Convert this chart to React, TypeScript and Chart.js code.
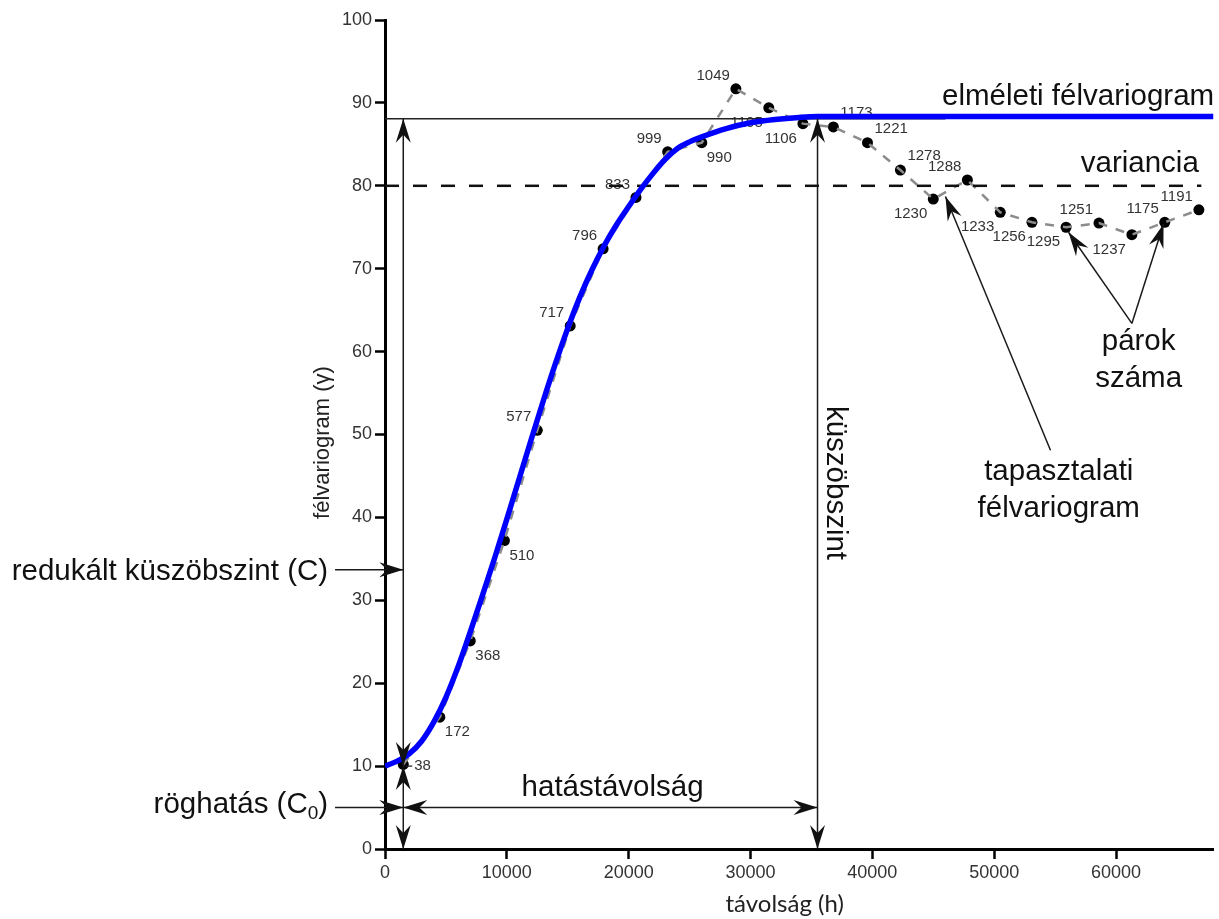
import React, { useEffect, useRef } from "react";
import { Chart, registerables } from "chart.js";

Chart.register(...registerables);

// ---- axis ticks ----
const xTickValues = [0, 10000, 20000, 30000, 40000, 50000, 60000];
const yTickValues = [0, 10, 20, 30, 40, 50, 60, 70, 80, 90, 100];
const xMax = 68000;
const yMax = 100;

// ---- experimental semivariogram (tapasztalati félvariogram) ----
const lagDistance = [1500, 4500, 7000, 9800, 12500, 15200, 17900, 20600, 23200, 26000, 28800, 31500, 34300, 36800, 39600, 42300, 45000, 47800, 50500, 53100, 55900, 58600, 61300, 64000, 66800];
const experimentalGamma = [10.2, 15.9, 25.1, 37.2, 50.5, 63.1, 72.4, 78.6, 84.1, 85.2, 91.7, 89.4, 87.5, 87.1, 85.2, 81.9, 78.4, 80.7, 76.8, 75.6, 75.0, 75.5, 74.1, 75.6, 77.1];
const pairCounts = [38, 172, 368, 510, 577, 717, 796, 833, 999, 990, 1049, 1105, 1106, 1173, 1221, 1278, 1230, 1288, 1233, 1256, 1295, 1251, 1237, 1175, 1191];

// ---- theoretical semivariogram (elméleti félvariogram) ----
const modelDistance = [0, 1000, 2000, 3000, 4000, 5000, 6000, 7000, 8000, 9000, 10000, 11000, 12000, 13000, 14000, 15000, 16000, 17000, 18000, 19000, 20000, 21000, 22000, 23000, 24000, 25000, 26000, 28000, 30000, 32000, 34000, 35500, 68000];
const modelGamma = [10.0, 10.6, 11.5, 13.0, 15.3, 18.3, 22.0, 26.2, 30.6, 35.1, 39.8, 44.6, 49.4, 54.1, 58.6, 62.8, 66.6, 69.9, 72.8, 75.3, 77.5, 79.6, 81.5, 83.2, 84.5, 85.3, 85.9, 86.9, 87.6, 88.0, 88.25, 88.35, 88.35];

// ---- reference levels ----
const sillLevel = 88.1;
const sillLineEnd = 46000;
const varianceLevel = 80;
const varianceLineEnd = 67000;
const nuggetLevel = 10;
const nuggetDistance = 1500;
const rangeDistance = 35500;
const reducedSillMarker = 33.7;
const nuggetMarker = 5;

// label placement style for each pair-count label (r = right, rb = right-below, ra = right-above, la = left-above, lb = left-below)
const pairLabelSide = ["r", "rb", "rb", "rb", "la", "la", "la", "la", "la", "rb", "la", "lb", "lb", "ra", "ra", "ra", "lb", "la", "lb", "lb", "lb", "la", "lb", "la", "la"];

const SANS = '"Liberation Sans", Arial, Helvetica, sans-serif';

function arrowHead(ctx: CanvasRenderingContext2D, tx: number, ty: number, fx: number, fy: number) {
  const ang = Math.atan2(ty - fy, tx - fx);
  const L = 24, W = 7.5, N = 8;
  ctx.save();
  ctx.translate(tx, ty);
  ctx.rotate(ang);
  ctx.beginPath();
  ctx.moveTo(0, 0);
  ctx.lineTo(-L, -W);
  ctx.lineTo(-L + N, 0);
  ctx.lineTo(-L, W);
  ctx.closePath();
  ctx.fill();
  ctx.restore();
}

const pointLabelPlugin = {
  id: "pointLabels",
  beforeDatasetsDraw(chart: any) {
    const { ctx, scales } = chart;
    const sx = scales.x, sy = scales.y;
    ctx.save();
    ctx.font = `15px ${SANS}`;
    ctx.fillStyle = "#333";
    ctx.textBaseline = "middle";
    pairCounts.forEach((n, i) => {
      const px = sx.getPixelForValue(lagDistance[i]);
      const py = sy.getPixelForValue(experimentalGamma[i]);
      const side = pairLabelSide[i];
      let dx = 0, dy = 0;
      if (side === "r") { ctx.textAlign = "left"; dx = 11; dy = 1; }
      else if (side === "rb") { ctx.textAlign = "left"; dx = 5; dy = 15; }
      else if (side === "ra") { ctx.textAlign = "left"; dx = 7; dy = -14; }
      else if (side === "la") { ctx.textAlign = "right"; dx = -6; dy = -13; }
      else { ctx.textAlign = "right"; dx = -6; dy = 15; }
      ctx.fillText(String(n), px + dx, py + dy);
    });
    ctx.restore();
  },
};

const annotationPlugin = {
  id: "annotations",
  afterDatasetsDraw(chart: any) {
    const { ctx, scales } = chart;
    const X = (v: number) => scales.x.getPixelForValue(v);
    const Y = (v: number) => scales.y.getPixelForValue(v);
    ctx.save();
    ctx.strokeStyle = "#1a1a1a";
    ctx.fillStyle = "#111";
    ctx.lineWidth = 1.5;

    const seg = (x1: number, y1: number, x2: number, y2: number, headStart: boolean, headEnd: boolean) => {
      ctx.beginPath();
      ctx.moveTo(x1, y1);
      ctx.lineTo(x2, y2);
      ctx.stroke();
      if (headEnd) arrowHead(ctx, x2, y2, x1, y1);
      if (headStart) arrowHead(ctx, x1, y1, x2, y2);
    };

    const leftStart = X(-4100);
    seg(X(nuggetDistance), Y(nuggetLevel), X(nuggetDistance), Y(sillLevel), true, true);
    seg(X(nuggetDistance), Y(0), X(nuggetDistance), Y(nuggetLevel), true, true);
    seg(X(rangeDistance), Y(0), X(rangeDistance), Y(sillLevel), true, true);
    seg(X(nuggetDistance), Y(nuggetMarker), X(rangeDistance), Y(nuggetMarker), true, true);
    seg(leftStart, Y(nuggetMarker), X(nuggetDistance), Y(nuggetMarker), false, true);
    seg(leftStart, Y(reducedSillMarker), X(nuggetDistance), Y(reducedSillMarker), false, true);
    seg(X(54620), Y(48.1), X(46000), Y(78.7), false, true);
    seg(X(61300), Y(63.4), X(56100), Y(74.4), false, true);
    seg(X(61300), Y(63.4), X(63900), Y(75.4), false, true);
    ctx.lineWidth = 1.2;
    ctx.beginPath();
    ctx.moveTo(X(nuggetDistance), Y(nuggetLevel));
    ctx.lineTo(X(nuggetDistance) + 9, Y(nuggetLevel));
    ctx.stroke();

    ctx.fillStyle = "#111";
    ctx.font = `29.5px ${SANS}`;
    ctx.textBaseline = "alphabetic";
    ctx.textAlign = "left";
    ctx.fillText("elméleti félvariogram", X(45715), Y(89.75));
    ctx.fillText("variancia", X(57103), Y(81.66));
    ctx.textAlign = "center";
    ctx.fillText("hatástávolság", X(18680), Y(6.39));
    ctx.fillText("tapasztalati", X(55300), Y(44.5));
    ctx.fillText("félvariogram", X(55300), Y(40.05));
    ctx.fillText("párok", X(61855), Y(60.19));
    ctx.fillText("száma", X(61855), Y(55.73));
    ctx.textAlign = "right";
    ctx.fillText("redukált küszöbszint (C)", X(-4670), Y(32.45));

    {
      const rightX = X(-4670);
      const base = Y(4.34);
      const mainA = "röghatás (C";
      const sub = "0";
      const close = ")";
      ctx.font = `29.5px ${SANS}`;
      const wA = ctx.measureText(mainA).width;
      const wC = ctx.measureText(close).width;
      ctx.font = `19px ${SANS}`;
      const wS = ctx.measureText(sub).width;
      let cx = rightX - (wA + wS + wC);
      ctx.textAlign = "left";
      ctx.font = `29.5px ${SANS}`;
      ctx.fillText(mainA, cx, base);
      cx += wA;
      ctx.font = `19px ${SANS}`;
      ctx.fillText(sub, cx, base + 6);
      cx += wS;
      ctx.font = `29.5px ${SANS}`;
      ctx.fillText(close, cx, base);
    }

    ctx.save();
    ctx.translate(X(36950), Y(44.15));
    ctx.rotate(Math.PI / 2);
    ctx.textAlign = "center";
    ctx.textBaseline = "middle";
    ctx.font = `29.5px ${SANS}`;
    ctx.fillText("küszöbszint", 0, 0);
    ctx.restore();

    ctx.restore();
  },
};

const axisTitlePlugin = {
  id: "axisTitles",
  afterDraw(chart: any) {
    const { ctx } = chart;
    const sx = chart.scales.x, sy = chart.scales.y;
    ctx.save();
    ctx.fillStyle = "#222";
    ctx.textAlign = "center";
    ctx.textBaseline = "middle";
    ctx.font = `22px ${SANS}`;
    ctx.translate(sx.left - 62, (sy.top + sy.bottom) / 2 + 8);
    ctx.rotate(-Math.PI / 2);
    ctx.fillText("félvariogram (γ)", 0, 0);
    ctx.restore();

    ctx.save();
    ctx.fillStyle = "#222";
    ctx.textAlign = "center";
    ctx.textBaseline = "alphabetic";
    ctx.font = `24px Lato, "Open Sans", sans-serif`;
    ctx.fillText("távolság (h)", sx.getPixelForValue(32800), sy.bottom + 63);
    ctx.restore();
  },
};

export default function App() {
  const ref = useRef<HTMLCanvasElement | null>(null);
  useEffect(() => {
    if (!ref.current) return;
    const chart = new Chart(ref.current, {
      type: "line",
      data: {
        datasets: [
          {
            label: "elméleti félvariogram",
            data: modelDistance.map((d, i) => ({ x: d, y: modelGamma[i] })),
            borderColor: "#0000ff",
            borderWidth: 5.5,
            pointRadius: 0,
            cubicInterpolationMode: "monotone",
            fill: false,
          },
          {
            label: "sill",
            data: [{ x: 0, y: sillLevel }, { x: sillLineEnd, y: sillLevel }],
            borderColor: "#222",
            borderWidth: 1.5,
            pointRadius: 0,
            fill: false,
          },
          {
            label: "variancia",
            data: [{ x: 0, y: varianceLevel }, { x: varianceLineEnd, y: varianceLevel }],
            borderColor: "#111",
            borderWidth: 2.5,
            borderDash: [14, 14],
            pointRadius: 0,
            fill: false,
          },
          {
            label: "tapasztalati line",
            data: lagDistance.map((d, i) => ({ x: d, y: experimentalGamma[i] })),
            borderColor: "#8c8c8c",
            borderWidth: 2.5,
            borderDash: [9, 9],
            pointRadius: 0,
            tension: 0,
            fill: false,
          },
          {
            label: "tapasztalati points",
            data: lagDistance.map((d, i) => ({ x: d, y: experimentalGamma[i] })),
            showLine: false,
            pointRadius: 5.5,
            pointBackgroundColor: "#000",
            pointBorderColor: "#000",
            pointBorderWidth: 0,
          },
        ],
      },
      options: {
        responsive: false,
        animation: false,
        events: [],
        layout: { padding: { top: 20, right: 4, left: 0, bottom: 0 } },
        plugins: { legend: { display: false }, tooltip: { enabled: false }, title: { display: false } },
        scales: {
          x: {
            type: "linear",
            min: 0,
            max: xMax,
            afterFit: (s: any) => { s.height = 70; },
            afterBuildTicks: (s: any) => { s.ticks = xTickValues.map((v) => ({ value: v })); },
            grid: { display: true, drawOnChartArea: false, drawTicks: true, tickLength: 10, tickColor: "#000", tickWidth: 2.5 },
            border: { display: true, color: "#000", width: 3 },
            ticks: { color: "#333", font: { size: 18, family: SANS }, padding: 3, maxRotation: 0, autoSkip: false, callback: (v: any) => String(v) },
          },
          y: {
            type: "linear",
            min: 0,
            max: yMax,
            afterFit: (s: any) => { s.width = 385; },
            afterBuildTicks: (s: any) => { s.ticks = yTickValues.map((v) => ({ value: v })); },
            grid: { display: true, drawOnChartArea: false, drawTicks: true, tickLength: 10, tickColor: "#000", tickWidth: 2.5 },
            border: { display: true, color: "#000", width: 3 },
            ticks: { color: "#333", font: { size: 18, family: SANS }, padding: 3, autoSkip: false, callback: (v: any) => String(v) },
          },
        },
      },
      plugins: [pointLabelPlugin, annotationPlugin, axisTitlePlugin],
    } as any);
    return () => chart.destroy();
  }, []);

  return (
    <div style={{ position: "absolute", left: 0, top: 0, width: 1219, height: 919, background: "#fff" }}>
      <canvas ref={ref} width={1219} height={919} style={{ display: "block" }} />
    </div>
  );
}
